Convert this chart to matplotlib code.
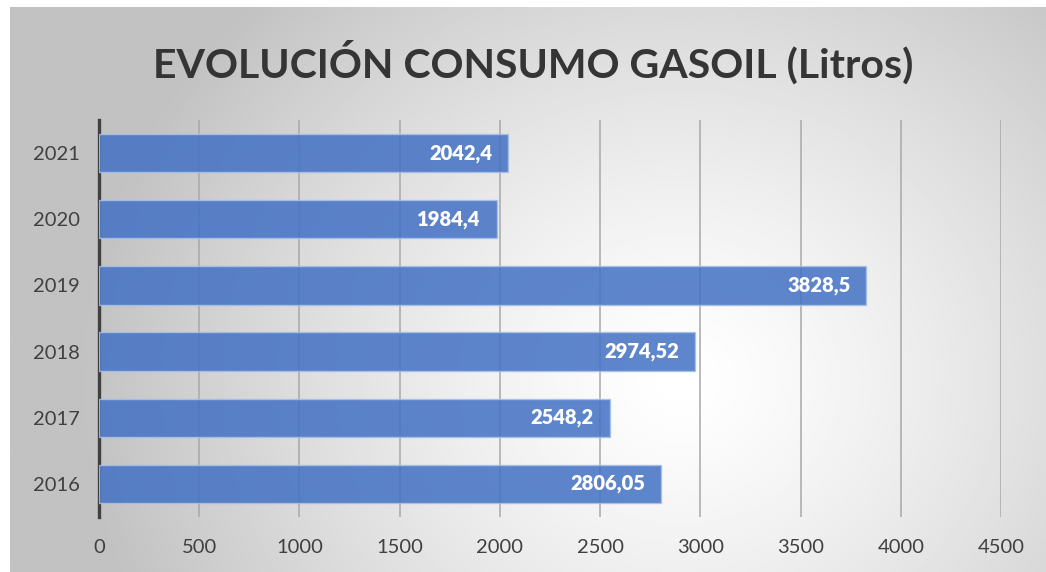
import matplotlib
matplotlib.use("Agg")
import matplotlib.pyplot as plt
import numpy as np

years = ["2016", "2017", "2018", "2019", "2020", "2021"]
litros = [2806.05, 2548.2, 2974.52, 3828.5, 1984.4, 2042.4]
labels = ["2806,05", "2548,2", "2974,52", "3828,5", "1984,4", "2042,4"]
xticks = [0, 500, 1000, 1500, 2000, 2500, 3000, 3500, 4000, 4500]

plt.rcParams["font.family"] = ["Lato", "DejaVu Sans"]

W, H = 1046, 572
fig = plt.figure(figsize=(W / 100, H / 100), dpi=100)

# radial gradient background of the chart area
bg = fig.add_axes([10 / W, 0, 1 - 10 / W, (H - 7) / H], zorder=0)
gx, gy = np.meshgrid(np.linspace(10, W, 400), np.linspace(7, H, 240))
r = np.hypot((gx - 680) / 620, (gy - 380) / 560)
shade = np.clip(1.0 - 0.25 * r ** 1.3, 0.76, 1.0)
bg.imshow(shade, cmap="gray", vmin=0, vmax=1, aspect="auto",
          extent=[0, 1, 0, 1], origin="upper", interpolation="bilinear")
bg.set_axis_off()

ax = fig.add_axes([99 / W, 55 / H, 902 / W, 397 / H], zorder=1)
ax.patch.set_alpha(0)

y = np.arange(len(years))
ax.barh(y, litros, height=0.58, color="#4472C4", alpha=0.86,
        edgecolor="#a9c0e8", linewidth=1, zorder=3)

for yi, v, lab in zip(y, litros, labels):
    ax.text(v - 80, yi, lab, ha="right", va="center", color="white",
            fontsize=14.5, fontweight="heavy", zorder=4)

ax.set_xlim(0, 4500)
ax.set_ylim(-0.5, 5.5)
ax.set_xticks(xticks)
ax.set_xticklabels([str(t) for t in xticks])
ax.set_yticks(y)
ax.set_yticklabels(years)
ax.tick_params(axis="both", length=0, labelsize=14.5, colors="#404040")
ax.tick_params(axis="x", pad=16)
ax.tick_params(axis="y", pad=14)
ax.xaxis.grid(True, color="#a8a8a8", linewidth=1.1)
ax.set_axisbelow(True)
for s in ["top", "right", "bottom"]:
    ax.spines[s].set_visible(False)
ax.spines["left"].set_color("#404040")
ax.spines["left"].set_linewidth(2.4)

fig.text(533 / W, 1 - 62 / H, "EVOLUCIÓN CONSUMO GASOIL (Litros)",
         ha="center", va="center", fontsize=29.5, fontweight="bold",
         color="#353535")

fig.savefig("out.png", dpi=100)
